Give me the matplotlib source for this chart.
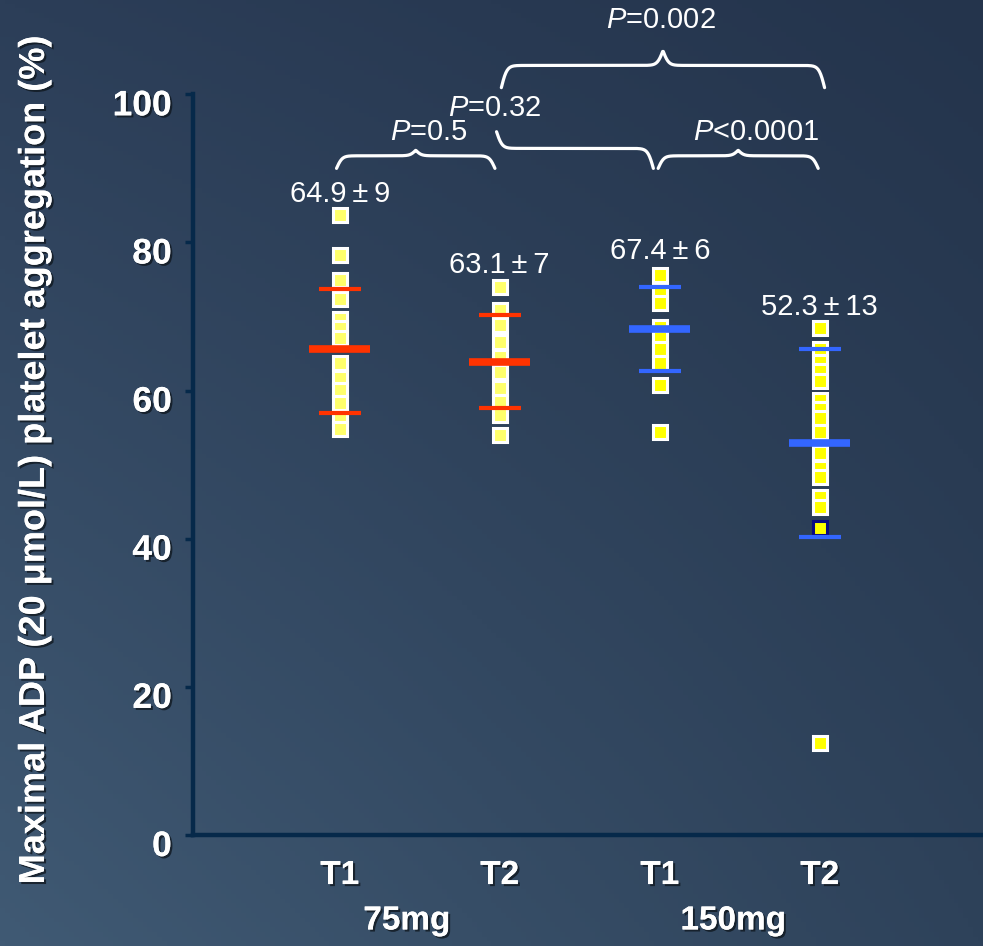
import numpy as np
import matplotlib
matplotlib.use('Agg')
import matplotlib.pyplot as plt
import matplotlib.patheffects as pe
from matplotlib.transforms import ScaledTranslation

plt.rcParams['font.family'] = ['Liberation Sans', 'DejaVu Sans']
plt.rcParams['mathtext.fontset'] = 'custom'
plt.rcParams['mathtext.rm'] = 'Liberation Sans'
plt.rcParams['mathtext.it'] = 'Liberation Sans:italic'

# data
group_labels = ['T1', 'T2', 'T1', 'T2']
dose_labels = ['75mg', '150mg']
dose_x = [1.42, 3.46]

pts_75_t1 = [83.7, 78.3, 74.9, 72.3, 69.6, 68.4, 67.1, 63.7, 61.7, 60.1, 58.3, 56.3, 54.8]
pts_75_t2 = [74.0, 70.9, 68.8, 66.5, 64.5, 62.5, 60.3, 58.4, 56.7, 54.0]
pts_150_t1 = [75.6, 73.5, 71.8, 68.6, 67.1, 65.6, 63.7, 60.7, 54.4]
pts_150_t2 = [68.4, 65.6, 63.8, 62.6, 61.3, 58.7, 57.5, 56.3, 54.4, 51.6,
              49.5, 48.3, 45.6, 44.3, 41.5, 12.4]
highlight = (3, 14)   # group index, point index with the dark edge

mean_bar = [65.6, 63.8, 68.3, 52.9]
sd_hi = [73.7, 70.2, 74.0, 65.6]
sd_lo = [57.0, 57.6, 62.7, 40.2]
mean_text = ['64.9\u2009\u00b1\u20099', '63.1\u2009\u00b1\u20097',
             '67.4\u2009\u00b1\u20096', '52.3\u2009\u00b1\u200913']
mean_text_y = [86.6, 76.9, 78.9, 71.3]

# comparisons: x start, x end, tip x, end y, rise to flat, rise to tip, text, text x, text y, half
comparisons = [
    (0.98, 1.97, None, 90.0, 1.7, 0.75, r'$\mathit{P}$=0.5', 1.56, 94.9, False),
    (0.98, 2.96, 1.98, 90.0, 2.7, 2.25, r'$\mathit{P}$=0.32', 1.97, 98.1, True),
    (2.99, 3.99, None, 90.0, 1.7, 0.75, r'$\mathit{P}$<0.0001', 3.60, 94.9, False),
    (2.01, 4.03, None, 100.9, 3.0, 2.0, r'$\mathit{P}$=0.002', 3.01, 110.0, False),
]

groups = [pts_75_t1, pts_75_t2, pts_150_t1, pts_150_t2]
fills = ['#ffff6a', '#ffff6a', '#ffff00', '#ffff00']
bar_colors = ['#ff3300', '#ff3300', '#3366ff', '#3366ff']

fig = plt.figure(figsize=(9.83, 9.46), dpi=100)

# background gradient
bg = fig.add_axes([0, 0, 1, 1], zorder=-2)
yy, xx = np.mgrid[0:1:200j, 0:1:200j]
tl = np.array([44, 62, 88]) / 255
tr = np.array([36, 52, 76]) / 255
bl = np.array([64, 90, 116]) / 255
br = np.array([46, 66, 90]) / 255
img = (tl[None, None] * ((1 - xx) * (1 - yy))[..., None] + tr[None, None] * (xx * (1 - yy))[..., None]
       + bl[None, None] * ((1 - xx) * yy)[..., None] + br[None, None] * (xx * yy)[..., None])
bg.imshow(img, aspect='auto', extent=[0, 1, 0, 1])
bg.axis('off')

ax = fig.add_axes([0.196, 0.1173, 0.804, 0.783])
ax.patch.set_alpha(0)
ax.set_xlim(0.081, 5.02)
ax.set_ylim(0, 100)

spine_col = '#06294a'
for s in ['top', 'right']:
    ax.spines[s].set_visible(False)
for s in ['left', 'bottom']:
    ax.spines[s].set_color(spine_col)
    ax.spines[s].set_linewidth(3.2)

shadow = [pe.withSimplePatchShadow(offset=(1.5, -1.5), shadow_rgbFace='#101820', alpha=0.8), pe.Normal()]

ax.set_yticks([0, 20, 40, 60, 80, 100])
ax.tick_params(axis='y', direction='out', length=6, width=2.5, color=spine_col,
               labelsize=25.5, labelcolor='white', pad=9)
for lab in ax.get_yticklabels():
    lab.set_fontweight('bold')
    lab.set_transform(lab.get_transform() + ScaledTranslation(0, -8 / 100, fig.dpi_scale_trans))
    lab.set_path_effects(shadow)

xs = np.arange(1, len(groups) + 1)
ax.set_xticks(xs)
ax.set_xticklabels(group_labels)
ax.tick_params(axis='x', length=0, labelsize=24, labelcolor='white', pad=18)
for lab in ax.get_xticklabels():
    lab.set_fontweight('bold')
    lab.set_path_effects(shadow)

for x, lab in zip(dose_x, dose_labels):
    ax.text(x, -11.6, lab, ha='center', va='center', fontsize=24, fontweight='bold',
            color='white', clip_on=False, path_effects=shadow)

ax.set_ylabel('Maximal ADP (20 \u03bcmol/L) platelet aggregation (%)', fontsize=26,
              fontweight='bold', color='white', path_effects=shadow)
ax.yaxis.set_label_coords(-0.178, 0.506)

for i, (x, pts) in enumerate(zip(xs, groups)):
    edges = ['white'] * len(pts)
    if highlight[0] == i:
        edges[highlight[1]] = '#0a0a80'
    for v, ec in zip(pts, edges):
        ax.plot(x, v, 's', ms=9.4, mfc=fills[i], mec=ec, mew=2.2, zorder=3 if ec == 'white' else 4,
                clip_on=False)
    ax.hlines(mean_bar[i], x - 0.19, x + 0.19, color=bar_colors[i], lw=5.5, zorder=5)
    ax.hlines([sd_hi[i], sd_lo[i]], x - 0.13, x + 0.13, color=bar_colors[i], lw=3, zorder=5)
    ax.text(x, mean_text_y[i], mean_text[i], ha='center', va='center', fontsize=21,
            color='white', clip_on=False)


def brace(x1, x2, xm, y0, d1, d2, half):
    if xm is None:
        xm = (x1 + x2) / 2
    start = xm if half else x1
    bx = np.linspace(start, x2, 500)
    k = 4 / 0.07
    if half:
        dist_end = x2 - bx
    else:
        dist_end = np.minimum(bx - x1, x2 - bx)
    dist_tip = np.abs(bx - xm)
    by = y0 + d1 * (2 / (1 + np.exp(-k * dist_end)) - 1) + d2 * 2 / (1 + np.exp(k * dist_tip))
    ax.plot(bx, by, color='white', lw=2.3, clip_on=False, solid_capstyle='round', zorder=6)


for x1, x2, xm, y0, d1, d2, txt, tx, ty, half in comparisons:
    brace(x1, x2, xm, y0, d1, d2, half)
    ax.text(tx, ty, txt, ha='center', va='center', fontsize=21, color='white', clip_on=False)

fig.savefig('out.png', dpi=100)
